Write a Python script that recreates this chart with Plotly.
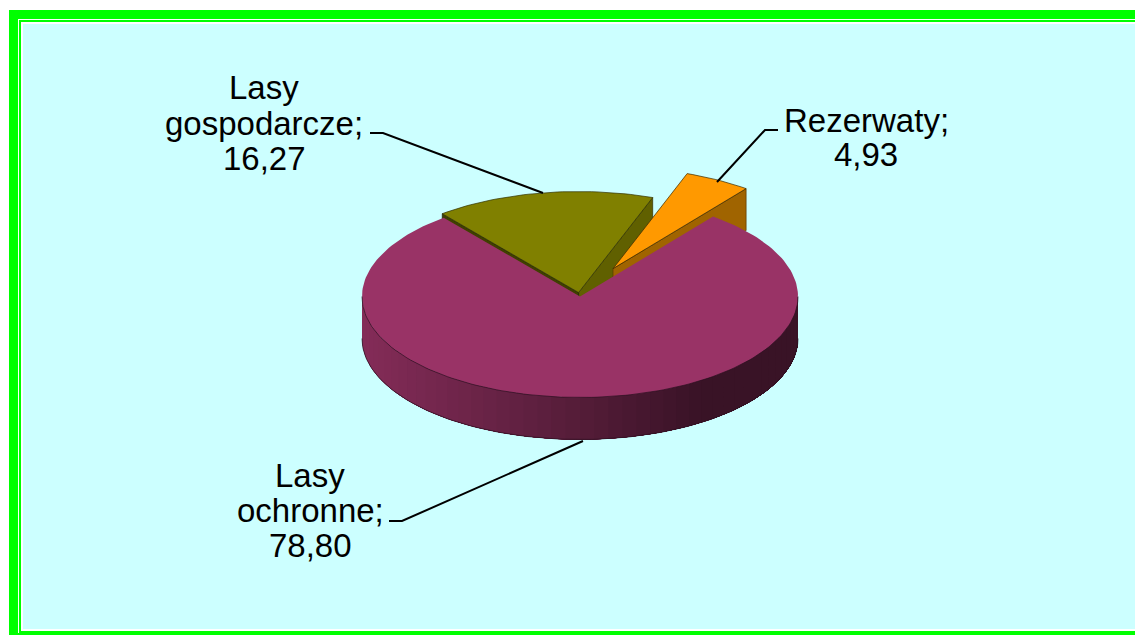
import math
import plotly.graph_objects as go

categories = ["Lasy ochronne", "Lasy gospodarcze", "Rezerwaty"]
values = [78.80, 16.27, 4.93]
label_lines = [["Lasy", "ochronne;", "78,80"], ["Lasy", "gospodarcze;", "16,27"], ["Rezerwaty;", "4,93"]]
top_colors = ["#993366", "#808000", "#FF9900"]
explode = [0.0, 0.04, 0.315]

W, H = 1135, 635
CX, CY, RX, RY, DEPTH = 580, 296.5, 218, 101, 42
START = 128.7


def mix(hex_color, f):
    r, g, b = [int(hex_color[i:i + 2], 16) for i in (1, 3, 5)]
    return f"rgb({r * f:.0f},{g * f:.0f},{b * f:.0f})"


def pt(a, ox=0, oy=0, dz=0):
    t = math.radians(a)
    return CX + ox + RX * math.cos(t), CY + oy - RY * math.sin(t) + dz


def arc(a0, a1, ox=0, oy=0, dz=0, n=None):
    n = n or max(2, int(abs(a1 - a0) / 1.5))
    return [pt(a0 + (a1 - a0) * i / n, ox, oy, dz) for i in range(n + 1)]


def poly(fig, pts, fill, line=None, lw=0.7):
    fig.add_trace(go.Scatter(
        x=[p[0] for p in pts] + [pts[0][0]], y=[p[1] for p in pts] + [pts[0][1]],
        mode="lines", fill="toself", fillcolor=fill,
        line=dict(color=line or fill, width=lw), hoverinfo="skip", showlegend=False))


span = {i: values[i] / sum(values) * 360 for i in range(3)}
a_g0 = START
a_g1 = a_g0 - span[1]
a_r0 = a_g1
a_r1 = a_r0 - span[2]
a_o0 = a_r1
a_o1 = a_o0 - span[0]


def offset(i, a0, a1):
    m = math.radians((a0 + a1) / 2)
    return explode[i] * RX * math.cos(m), -explode[i] * RY * math.sin(m)


fig = go.Figure()

# Lasy gospodarcze
ox, oy = offset(1, a_g0, a_g1)
tip = (CX + ox, CY + oy)
tipb = (tip[0], tip[1] + DEPTH)
poly(fig, [tip, pt(a_g1, ox, oy), pt(a_g1, ox, oy, DEPTH), tipb], "#606000", "#303000")
poly(fig, [tip, pt(a_g0, ox, oy), pt(a_g0, ox, oy, DEPTH), tipb], "#404000", "#202000")
poly(fig, [tip] + arc(a_g0, a_g1, ox, oy), top_colors[1], "#303000")

# Rezerwaty
ox, oy = offset(2, a_r0, a_r1)
tip = (CX + ox, CY + oy)
tipb = (tip[0], tip[1] + DEPTH)
poly(fig, [tip, pt(a_r1, ox, oy), pt(a_r1, ox, oy, DEPTH), tipb], "#A06400", "#5a3a00")
poly(fig, [tip] + arc(a_r0, a_r1, ox, oy), top_colors[2], "#3a2a00")

# Lasy ochronne: wall shaded by position, painted left to right so no seams show
steps = 48
for i in range(steps):
    a = 180.0 + 180.0 * i / steps
    x = RX * math.cos(math.radians(a)) + CX
    f = max(0.37, 0.86 - 0.49 * (x - (CX - RX)) / 335)
    poly(fig, arc(a, 360, n=60) + arc(360, a, dz=DEPTH, n=60), mix(top_colors[0], f), lw=0)
edge = arc(180, 360, dz=DEPTH)
fig.add_trace(go.Scatter(x=[p[0] for p in edge], y=[p[1] for p in edge], mode="lines",
                         line=dict(color="#2a1020", width=0.7), hoverinfo="skip", showlegend=False))
poly(fig, [(CX, CY)] + arc(a_o0, a_o1), top_colors[0], lw=0)
bot = arc(180, 360)
fig.add_trace(go.Scatter(x=[p[0] for p in bot], y=[p[1] for p in bot], mode="lines",
                         line=dict(color="#2a1020", width=0.7), hoverinfo="skip", showlegend=False))

# leader lines
leaders = [
    ([389, 402, 583], [521, 521, 441]),
    ([370, 383, 543], [133, 133, 193]),
    ([778, 765, 717], [130, 130, 182]),
]
for lx, ly in leaders:
    fig.add_trace(go.Scatter(x=lx, y=ly, mode="lines", line=dict(color="black", width=2),
                             hoverinfo="skip", showlegend=False))

# labels
label_centers = [(310, 475), (264, 87.5), (866, 120)]
label_gaps = [35, 35.5, 34]
annotations = []
for lines, (lx, ly), gap in zip(label_lines, label_centers, label_gaps):
    for j, t in enumerate(lines):
        annotations.append(dict(x=lx, y=ly + j * gap, xref="x", yref="y", text=t, showarrow=False,
                                font=dict(family="Liberation Sans, Arial", size=33, color="black"),
                                xanchor="center", yanchor="middle"))

# frame
frame = [
    dict(type="rect", x0=9, y0=10, x1=1160, y1=635, fillcolor="#00FF00", line_width=0, layer="below"),
    dict(type="rect", x0=18, y0=19, x1=1160, y1=633, fillcolor="#FFFFFF", line_width=0, layer="below"),
    dict(type="rect", x0=19, y0=20, x1=1160, y1=633, fillcolor="#00FF00", line_width=0, layer="below"),
    dict(type="rect", x0=21, y0=22, x1=1160, y1=631, fillcolor="#FFFFFF", line_width=0, layer="below"),
    dict(type="rect", x0=23, y0=24, x1=1160, y1=629, fillcolor="#CCFFFF", line_width=0, layer="below"),
]

fig.update_layout(
    width=W, height=H, margin=dict(l=0, r=0, t=0, b=0), autosize=False,
    paper_bgcolor="#FFFFFF", plot_bgcolor="#FFFFFF", showlegend=False,
    xaxis=dict(range=[0, W], visible=False, fixedrange=True),
    yaxis=dict(range=[H, 0], visible=False, fixedrange=True),
    shapes=frame, annotations=annotations,
)
fig.write_html("out.html", config={"displayModeBar": False},
               post_script="document.body.style.margin='0';document.documentElement.style.overflow='hidden';")
